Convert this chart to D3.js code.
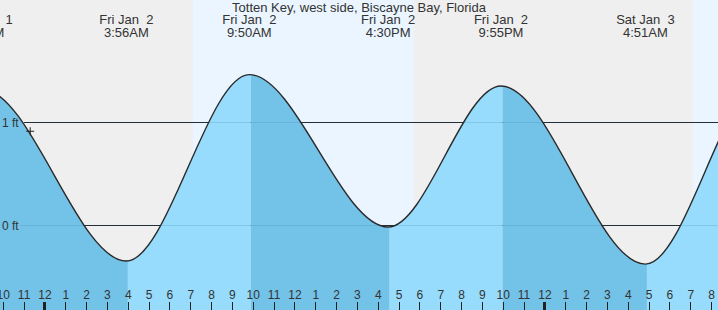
<!DOCTYPE html>
<html><head><meta charset="utf-8">
<script src="https://cdn.jsdelivr.net/npm/d3@7"></script>
<style>
html,body{margin:0;padding:0;background:#fff;}
svg{display:block;}
text{font-family:"Liberation Sans",Arial,sans-serif;fill:#333;}
</style></head>
<body>
<svg id="c" width="718" height="310"></svg>
<script>
// ---- data ----
const title = "Totten Key, west side, Biscayne Bay, Florida";
const extremeTimes = ["2026-01-01T15:10","2026-01-01T21:00","2026-01-02T03:56","2026-01-02T09:50","2026-01-02T16:30","2026-01-02T21:55","2026-01-03T04:51","2026-01-03T10:35","2026-01-03T17:10"];
const extremeHeights = [-0.03, 1.32, -0.35, 1.46, -0.02, 1.35, -0.38, 1.42, 0.0];
const extremeDays = ["Thu Jan  1","Thu Jan  1","Fri Jan  2","Fri Jan  2","Fri Jan  2","Fri Jan  2","Sat Jan  3","Sat Jan  3","Sat Jan  3"];
const extremeLabels = ["3:10PM","9:00PM","3:56AM","9:50AM","4:30PM","9:55PM","4:51AM","10:35AM","5:10PM"];
const sunTimes = [["2026-01-02T07:07","2026-01-02T17:44"],["2026-01-03T07:07","2026-01-03T17:45"]];
const gridFeet = [0, 1];
const gridLabels = ["0 ft", "1 ft"];
const nowTime = "2026-01-01T23:19";
const nowHeight = 0.91;

const W = 718, H = 310;
const parse = d3.timeParse("%Y-%m-%dT%H:%M");
const tides = extremeTimes.map((t,i)=>({t:parse(t), v:extremeHeights[i], day:extremeDays[i], lab:extremeLabels[i]}));

const t0 = parse("2026-01-02T00:00");
const pxPerHour = 500/24;
const x = d3.scaleTime()
  .domain([d3.timeMinute.offset(t0, -44.3/pxPerHour*60), d3.timeMinute.offset(t0, (718-44.3)/pxPerHour*60)])
  .range([0, W]);
const y = d3.scaleLinear().domain([0,1]).range([225,122]);

const svg = d3.select("#c");
// background
svg.append("rect").attr("width",W).attr("height",H).attr("fill","#efefef");
sunTimes.forEach(([a,b])=>{
  svg.append("rect").attr("x",x(parse(a))).attr("y",0)
    .attr("width",x(parse(b))-x(parse(a))).attr("height",H).attr("fill","#eaf5ff");
});

// grid lines (under fill)
gridFeet.forEach(v=>{
  svg.append("line").attr("x1",24).attr("x2",W).attr("y1",y(v)+0.5).attr("y2",y(v)+0.5)
    .attr("stroke","#222").attr("stroke-width",1);
});

// area fill split by rising/falling
const area = d3.area().x(d=>x(d.t)).y0(H).y1(d=>y(d.v)).curve(d3.curveMonotoneX);
const line = d3.line().x(d=>x(d.t)).y(d=>y(d.v)).curve(d3.curveMonotoneX);
const defs = svg.append("defs");
for (let i=0;i<tides.length-1;i++){
  const a = tides[i], b = tides[i+1];
  const xa = x(a.t)+1.5, xb = x(b.t)+1.5;
  if (xb < 0 || xa > W) continue;
  const id = "clip"+i;
  defs.append("clipPath").attr("id",id).append("rect")
    .attr("x", xa).attr("y",0).attr("width", xb-xa).attr("height",H);
  svg.append("path").datum(tides).attr("d",area)
    .attr("fill", b.v < a.v ? "#73c2e7" : "#97dcfc")
    .attr("clip-path","url(#"+id+")");
}
// faint grid over fill
gridFeet.forEach(v=>{
  svg.append("line").attr("x1",20).attr("x2",W).attr("y1",y(v)+0.5).attr("y2",y(v)+0.5)
    .attr("stroke","rgba(40,110,160,0.18)").attr("stroke-width",1);
});
svg.append("path").datum(tides).attr("d",line)
  .attr("fill","none").attr("stroke","#2a2a2a").attr("stroke-width",1.4);

// grid labels
gridFeet.forEach((v,i)=>{
  svg.append("text").attr("x",2).attr("y",y(v)+4.5).attr("font-size",12).text(gridLabels[i]);
});

// now marker
const nx = x(parse(nowTime)), ny = y(nowHeight);
svg.append("path").attr("d",`M${nx-4},${ny}H${nx+4}M${nx},${ny-4}V${ny+4}`)
  .attr("stroke","#222").attr("stroke-width",1).attr("fill","none");

// title
svg.append("text").attr("x",359).attr("y",12).attr("text-anchor","middle").attr("font-size",13).text(title);

// extreme labels
tides.forEach(d=>{
  const xx = x(d.t);
  if (xx < -60 || xx > W + 40) return;
  const g = svg.append("g").attr("transform",`translate(${xx},0)`);
  g.append("text").attr("y",24).attr("text-anchor","middle").attr("font-size",13)
    .style("white-space","pre").text(d.day);
  g.append("text").attr("y",36.5).attr("text-anchor","middle").attr("font-size",13).text(d.lab);
});

// hour axis
const hours = d3.timeHour.range(x.domain()[0], x.domain()[1]);
const axis = d3.axisBottom(x).tickValues(hours).tickSize(0).tickFormat(d=>{const h=d.getHours()%12;return h===0?12:h;});
const ag = svg.append("g").attr("transform",`translate(0,${H})`);
hours.forEach(d=>{
  const mid = d.getHours()===0;
  ag.append("line").attr("x1",Math.round(x(d))+0.5).attr("x2",Math.round(x(d))+0.5)
    .attr("y1",-8).attr("y2",0).attr("stroke","#222").attr("stroke-width",mid?3:1);
});
const labels = svg.append("g").attr("transform",`translate(0,${H-11})`).call(axis);
labels.select(".domain").remove();
labels.selectAll("text").attr("font-size",12).attr("fill","#333").attr("dy",0).attr("y",0)
  .attr("font-family","Liberation Sans, Arial, sans-serif");
</script>
</body></html>
